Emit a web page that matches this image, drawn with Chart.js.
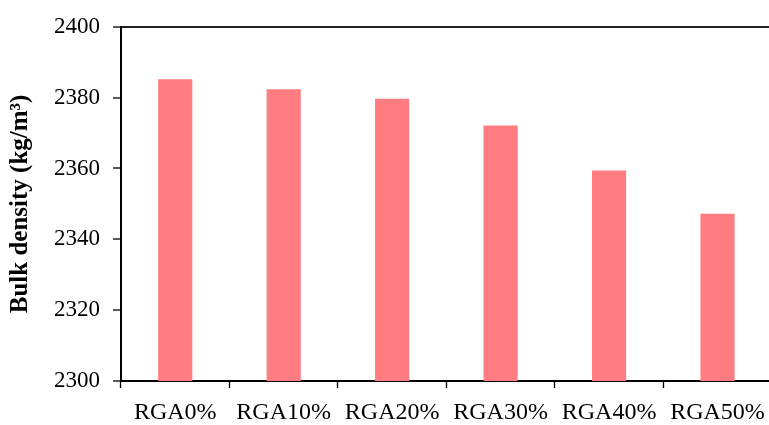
<!DOCTYPE html>
<html>
<head>
<meta charset="utf-8">
<script src="https://cdn.jsdelivr.net/npm/chart.js@4/dist/chart.umd.min.js"></script>
<style>
  html, body { margin: 0; padding: 0; background: #fff; overflow: hidden; }
  #wrap { width: 769px; height: 425px; overflow: hidden; }
</style>
</head>
<body>
<div id="wrap"><canvas id="c" width="775" height="425"></canvas></div>
<script>
// Bulk density by recycled glass aggregate replacement level
const categories = ['RGA0%', 'RGA10%', 'RGA20%', 'RGA30%', 'RGA40%', 'RGA50%'];
const bulkDensity = [2385.2, 2382.4, 2379.7, 2372.1, 2359.4, 2347.2];
const yMin = 2300, yMax = 2400, yStep = 20;
const yTitle = 'Bulk density (kg/m³)';

const serif = "'Liberation Serif', 'Times New Roman', serif";

new Chart(document.getElementById('c'), {
  type: 'bar',
  data: {
    labels: categories,
    datasets: [{
      data: bulkDensity,
      backgroundColor: '#FF7C80',
      borderWidth: 0,
      categoryPercentage: 1,
      barPercentage: 0.315
    }]
  },
  options: {
    responsive: false,
    animation: false,
    layout: { padding: { top: 24, left: 0, right: 2, bottom: 0 } },
    plugins: { legend: { display: false }, tooltip: { enabled: false } },
    scales: {
      x: {
        afterFit: s => { s.height = 44; },
        grid: {
          offset: true,
          drawOnChartArea: false,
          drawTicks: true,
          tickLength: 7,
          tickColor: '#000',
          tickWidth: 1.3
        },
        border: { display: true, color: '#000', width: 2 },
        ticks: {
          color: '#000',
          font: { family: serif, size: 24 },
          padding: 10,
          maxRotation: 0,
          autoSkip: false
        }
      },
      y: {
        min: yMin,
        max: yMax,
        afterFit: s => { s.width = 121; },
        grid: {
          drawTicks: true,
          tickLength: 8,
          tickColor: '#000',
          tickWidth: 1.3,
          color: ctx => (ctx.tick && ctx.tick.value === yMax) ? '#222' : 'rgba(0,0,0,0)',
          lineWidth: 2
        },
        border: { display: true, color: '#000', width: 2 },
        ticks: {
          stepSize: yStep,
          color: '#000',
          font: { family: serif, size: 23 },
          padding: 13,
          callback: v => String(v)
        },
        title: {
          display: true,
          text: yTitle,
          color: '#000',
          font: { family: serif, size: 25, weight: 'bold' },
          padding: { top: 6, bottom: 0 }
        }
      }
    }
  }
});
</script>
</body>
</html>
